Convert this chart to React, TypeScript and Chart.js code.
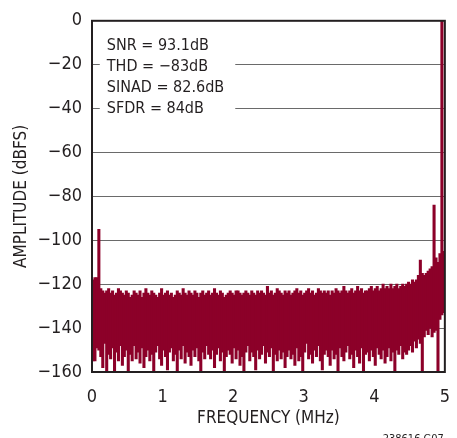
import React, { useEffect, useRef } from 'react';
import { Chart, registerables } from 'chart.js';

Chart.register(...registerables);

const X_MIN = 0;
const X_MAX = 5;
const X_STEP = 1;
const Y_MIN = -160;
const Y_MAX = 0;
const Y_STEP = 20;

const X_TITLE = 'FREQUENCY (MHz)';
const Y_TITLE = 'AMPLITUDE (dBFS)';
const NOTE = '238616 G07';
const STATS = ['SNR = 93.1dB', 'THD = \u221283dB', 'SINAD = 82.6dB', 'SFDR = 84dB'];

// top of each FFT bin band (dBFS)
const HIGH = [
  -118, -117, -117, -95, -122, -123, -124, -123, -122, -124,
  -123, -125, -124, -122, -123, -124, -125, -123, -124, -126,
  -125, -123, -124, -125, -123, -126, -124, -122, -124, -125,
  -123, -124, -125, -126, -124, -122, -125, -124, -123, -125,
  -124, -126, -125, -123, -124, -125, -122, -124, -125, -123,
  -124, -125, -123, -124, -126, -124, -123, -125, -124, -123,
  -125, -124, -122, -124, -125, -123, -124, -126, -125, -124,
  -123, -124, -125, -123, -123, -124, -125, -124, -123, -124,
  -125, -123, -124, -125, -123, -124, -123, -124, -125, -121,
  -124, -123, -125, -124, -122, -123, -124, -125, -123, -124,
  -123, -125, -124, -123, -122, -124, -123, -125, -124, -123,
  -122, -124, -123, -125, -124, -122, -123, -124, -123, -124,
  -123, -125, -123, -124, -122, -123, -124, -123, -121, -123,
  -124, -123, -122, -124, -123, -121, -123, -122, -124, -123,
  -123, -122, -121, -123, -122, -121, -123, -122, -120, -122,
  -121, -122, -120, -122, -121, -120, -122, -121, -120, -121,
  -120, -119, -120, -118, -119, -118, -116, -109, -115, -116,
  -115, -114, -113, -112, -84, -108, -110, -106, 0, -105,
];

// bottom of each FFT bin band (dBFS)
const LOW = [
  -155, -155, -149, -150, -153, -158, -147, -160, -152, -154,
  -149, -160, -151, -155, -148, -157, -153, -150, -160, -152,
  -155, -148, -154, -151, -156, -149, -158, -153, -150, -155,
  -152, -160, -151, -148, -154, -157, -150, -153, -159, -151,
  -149, -155, -152, -160, -150, -154, -148, -156, -151, -153,
  -157, -150, -153, -149, -155, -160, -151, -154, -148, -152,
  -154, -150, -158, -152, -149, -155, -151, -160, -153, -150,
  -152, -156, -149, -154, -150, -157, -153, -160, -151, -148,
  -155, -151, -153, -159, -150, -154, -152, -148, -156, -151,
  -153, -149, -160, -152, -155, -150, -154, -151, -158, -153,
  -150, -154, -152, -157, -149, -155, -153, -160, -151, -147,
  -154, -152, -156, -150, -153, -148, -155, -159, -152, -150,
  -153, -157, -150, -154, -152, -160, -149, -153, -155, -151,
  -148, -154, -152, -158, -150, -153, -156, -149, -160, -152,
  -151, -155, -150, -153, -157, -149, -152, -154, -150, -156,
  -153, -149, -155, -151, -160, -150, -152, -148, -154, -151,
  -152, -150, -148, -151, -146, -149, -145, -147, -160, -144,
  -141, -143, -140, -144, -142, -141, -160, -136, -134, -133,
];

const FONT = "'DejaVu Sans Condensed', 'Liberation Sans', Arial, sans-serif";
const RED = '#8c0029';
const INK = '#231f20';

const minus = (v: number) => (v < 0 ? '\u2212' + Math.abs(v) : String(v));

export default function App() {
  const ref = useRef<HTMLCanvasElement | null>(null);

  useEffect(() => {
    const canvas = ref.current;
    if (!canvas) return;
    const binWidth = (X_MAX - X_MIN) / HIGH.length;
    const data = HIGH.map((h, i) => ({ x: X_MIN + (i + 0.5) * binWidth, y: [LOW[i], h] }));

    const statsPlugin = {
      id: 'statsBox',
      beforeDatasetsDraw(chart: any) {
        const { ctx, scales } = chart;
        const y = scales.y;
        const x = scales.x;
        const left = x.getPixelForValue(0.11);
        const right = x.getPixelForValue(2.03);
        const top = y.getPixelForValue(-4);
        const bottom = y.getPixelForValue(-46);
        ctx.save();
        ctx.fillStyle = '#ffffff';
        ctx.fillRect(left, top, right - left, bottom - top);
        ctx.fillStyle = INK;
        ctx.font = `16px ${FONT}`;
        ctx.textBaseline = 'middle';
        ctx.textAlign = 'left';
        const tx = x.getPixelForValue(0.21);
        STATS.forEach((s, i) => {
          ctx.fillText(s, tx, y.getPixelForValue(-11.5 - i * 9.6));
        });
        ctx.restore();
      },
    };

    const framePlugin = {
      id: 'frame',
      afterDatasetsDraw(chart: any) {
        const { ctx, chartArea } = chart;
        ctx.save();
        ctx.strokeStyle = INK;
        ctx.lineWidth = 2;
        ctx.strokeRect(chartArea.left, chartArea.top, chartArea.right - chartArea.left, chartArea.bottom - chartArea.top);
        ctx.restore();
      },
      afterDraw(chart: any) {
        const { ctx } = chart;
        ctx.save();
        ctx.fillStyle = INK;
        ctx.font = `11px ${FONT}`;
        ctx.textAlign = 'right';
        ctx.textBaseline = 'alphabetic';
        ctx.fillText(NOTE, chart.chartArea.right - 1, 442);
        ctx.restore();
      },
    };

    const chart = new Chart(canvas, {
      type: 'bar',
      data: {
        datasets: [
          {
            data: data as any,
            backgroundColor: RED,
            borderWidth: 0,
            barPercentage: 1,
            categoryPercentage: 1,
            barThickness: 2.4,
          } as any,
        ],
      },
      options: {
        animation: false,
        responsive: false,
        devicePixelRatio: 1,
        layout: { padding: { top: 17, right: 9, bottom: 0, left: 0 } },
        plugins: { legend: { display: false }, tooltip: { enabled: false } },
        scales: {
          x: {
            type: 'linear',
            min: X_MIN,
            max: X_MAX,
            offset: false,
            grid: { display: false, offset: false },
            border: { display: false },
            ticks: {
              stepSize: X_STEP,
              color: INK,
              font: { family: FONT, size: 18 },
              padding: 7,
              maxRotation: 0,
            },
            title: {
              display: true,
              text: X_TITLE,
              color: INK,
              font: { family: FONT, size: 17 },
              padding: { top: 0, bottom: 9 },
            },
            afterFit: (s: any) => {
              s.height = 66;
            },
          },
          y: {
            type: 'linear',
            min: Y_MIN,
            max: Y_MAX,
            grid: {
              color: '#6a6a6a',
              drawTicks: false,
              lineWidth: (c: any) => (c.tick && (c.tick.value === Y_MIN || c.tick.value === Y_MAX) ? 0 : 1),
            },
            border: { display: false },
            ticks: {
              stepSize: Y_STEP,
              color: INK,
              font: { family: FONT, size: 18 },
              padding: 10,
              callback: (v: any) => minus(Number(v)),
            },
            title: {
              display: true,
              text: Y_TITLE,
              color: INK,
              font: { family: FONT, size: 17 },
              padding: { top: 11, bottom: 0 },
            },
            afterFit: (s: any) => {
              s.width = 92;
            },
          },
        },
      } as any,
      plugins: [statsPlugin, framePlugin],
    });
    return () => chart.destroy();
  }, []);

  return (
    <div style={{ position: 'fixed', left: 0, top: 0, width: 457, height: 438, background: '#fff' }}>
      <canvas ref={ref} width={457} height={438} style={{ display: 'block', width: 457, height: 438 }} />
    </div>
  );
}
